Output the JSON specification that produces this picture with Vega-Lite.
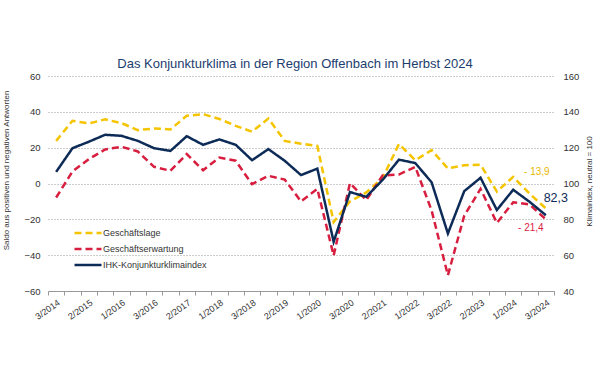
{
  "$schema": "https://vega.github.io/schema/vega-lite/v6.json",
  "width": 506,
  "height": 215,
  "autosize": {"type": "none"},
  "padding": {"left": 48, "top": 76, "right": 46, "bottom": 94},
  "background": "white",
  "config": {
    "font": "Liberation Sans",
    "view": {"stroke": null},
    "axis": {"labelFont": "Liberation Sans", "titleFont": "Liberation Sans", "labelColor": "#333333", "titleColor": "#333333", "labelFontSize": 9.5, "titleFontWeight": "normal"},
    "legend": {"labelFont": "Liberation Sans"},
    "text": {"font": "Liberation Sans"}
  },
  "title": {
    "text": "Das Konjunkturklima in der Region Offenbach im Herbst 2024",
    "fontSize": 13,
    "font": "Liberation Sans",
    "fontWeight": "normal",
    "color": "#1B3D6E",
    "anchor": "middle",
    "offset": 3,
    "dx": -6,
    "dy": 3
  },
  "data": {
    "values": [
      {"t": "3/2014", "s": "Geschäftslage", "v": 23.8}, {"t": "3/2014", "s": "Geschäftserwartung", "v": -7.8}, {"t": "3/2014", "s": "IHK-Konjunkturklimaindex", "v": 106.5},
      {"t": "1/2015", "s": "Geschäftslage", "v": 35.0}, {"t": "1/2015", "s": "Geschäftserwartung", "v": 6.7}, {"t": "1/2015", "s": "IHK-Konjunkturklimaindex", "v": 119.7},
      {"t": "2/2015", "s": "Geschäftslage", "v": 33.5}, {"t": "2/2015", "s": "Geschäftserwartung", "v": 13.6}, {"t": "2/2015", "s": "IHK-Konjunkturklimaindex", "v": 123.3},
      {"t": "3/2015", "s": "Geschäftslage", "v": 35.8}, {"t": "3/2015", "s": "Geschäftserwartung", "v": 19.0}, {"t": "3/2015", "s": "IHK-Konjunkturklimaindex", "v": 127.2},
      {"t": "1/2016", "s": "Geschäftslage", "v": 33.7}, {"t": "1/2016", "s": "Geschäftserwartung", "v": 20.5}, {"t": "1/2016", "s": "IHK-Konjunkturklimaindex", "v": 126.6},
      {"t": "2/2016", "s": "Geschäftslage", "v": 29.8}, {"t": "2/2016", "s": "Geschäftserwartung", "v": 17.9}, {"t": "2/2016", "s": "IHK-Konjunkturklimaindex", "v": 123.8},
      {"t": "3/2016", "s": "Geschäftslage", "v": 30.7}, {"t": "3/2016", "s": "Geschäftserwartung", "v": 9.3}, {"t": "3/2016", "s": "IHK-Konjunkturklimaindex", "v": 119.7},
      {"t": "1/2017", "s": "Geschäftslage", "v": 30.2}, {"t": "1/2017", "s": "Geschäftserwartung", "v": 7.1}, {"t": "1/2017", "s": "IHK-Konjunkturklimaindex", "v": 118.2},
      {"t": "2/2017", "s": "Geschäftslage", "v": 37.8}, {"t": "2/2017", "s": "Geschäftserwartung", "v": 16.4}, {"t": "2/2017", "s": "IHK-Konjunkturklimaindex", "v": 126.4},
      {"t": "3/2017", "s": "Geschäftslage", "v": 38.7}, {"t": "3/2017", "s": "Geschäftserwartung", "v": 7.4}, {"t": "3/2017", "s": "IHK-Konjunkturklimaindex", "v": 121.6},
      {"t": "1/2018", "s": "Geschäftslage", "v": 36.0}, {"t": "1/2018", "s": "Geschäftserwartung", "v": 14.5}, {"t": "1/2018", "s": "IHK-Konjunkturklimaindex", "v": 124.6},
      {"t": "2/2018", "s": "Geschäftslage", "v": 32.2}, {"t": "2/2018", "s": "Geschäftserwartung", "v": 12.7}, {"t": "2/2018", "s": "IHK-Konjunkturklimaindex", "v": 121.6},
      {"t": "3/2018", "s": "Geschäftslage", "v": 28.9}, {"t": "3/2018", "s": "Geschäftserwartung", "v": -0.4}, {"t": "3/2018", "s": "IHK-Konjunkturklimaindex", "v": 113.0},
      {"t": "1/2019", "s": "Geschäftslage", "v": 36.3}, {"t": "1/2019", "s": "Geschäftserwartung", "v": 4.3}, {"t": "1/2019", "s": "IHK-Konjunkturklimaindex", "v": 119.2},
      {"t": "2/2019", "s": "Geschäftslage", "v": 23.8}, {"t": "2/2019", "s": "Geschäftserwartung", "v": 2.2}, {"t": "2/2019", "s": "IHK-Konjunkturklimaindex", "v": 112.7},
      {"t": "3/2019", "s": "Geschäftslage", "v": 22.2}, {"t": "3/2019", "s": "Geschäftserwartung", "v": -10.0}, {"t": "3/2019", "s": "IHK-Konjunkturklimaindex", "v": 104.7},
      {"t": "1/2020", "s": "Geschäftslage", "v": 21.0}, {"t": "1/2020", "s": "Geschäftserwartung", "v": -3.0}, {"t": "1/2020", "s": "IHK-Konjunkturklimaindex", "v": 108.3},
      {"t": "2/2020", "s": "Geschäftslage", "v": -21.5}, {"t": "2/2020", "s": "Geschäftserwartung", "v": -40.2}, {"t": "2/2020", "s": "IHK-Konjunkturklimaindex", "v": 67.5},
      {"t": "3/2020", "s": "Geschäftslage", "v": -10.0}, {"t": "3/2020", "s": "Geschäftserwartung", "v": 0.2}, {"t": "3/2020", "s": "IHK-Konjunkturklimaindex", "v": 95.2},
      {"t": "1/2021", "s": "Geschäftslage", "v": -5.0}, {"t": "1/2021", "s": "Geschäftserwartung", "v": -9.3}, {"t": "1/2021", "s": "IHK-Konjunkturklimaindex", "v": 92.6},
      {"t": "2/2021", "s": "Geschäftslage", "v": 3.0}, {"t": "2/2021", "s": "Geschäftserwartung", "v": 4.5}, {"t": "2/2021", "s": "IHK-Konjunkturklimaindex", "v": 102.0},
      {"t": "3/2021", "s": "Geschäftslage", "v": 22.0}, {"t": "3/2021", "s": "Geschäftserwartung", "v": 5.0}, {"t": "3/2021", "s": "IHK-Konjunkturklimaindex", "v": 113.3},
      {"t": "1/2022", "s": "Geschäftslage", "v": 13.0}, {"t": "1/2022", "s": "Geschäftserwartung", "v": 9.3}, {"t": "1/2022", "s": "IHK-Konjunkturklimaindex", "v": 111.4},
      {"t": "2/2022", "s": "Geschäftslage", "v": 18.6}, {"t": "2/2022", "s": "Geschäftserwartung", "v": -15.0}, {"t": "2/2022", "s": "IHK-Konjunkturklimaindex", "v": 100.7},
      {"t": "3/2022", "s": "Geschäftslage", "v": 8.4}, {"t": "3/2022", "s": "Geschäftserwartung", "v": -51.2}, {"t": "3/2022", "s": "IHK-Konjunkturklimaindex", "v": 72.1},
      {"t": "1/2023", "s": "Geschäftslage", "v": 10.2}, {"t": "1/2023", "s": "Geschäftserwartung", "v": -18.0}, {"t": "1/2023", "s": "IHK-Konjunkturklimaindex", "v": 95.7},
      {"t": "2/2023", "s": "Geschäftslage", "v": 10.5}, {"t": "2/2023", "s": "Geschäftserwartung", "v": -3.0}, {"t": "2/2023", "s": "IHK-Konjunkturklimaindex", "v": 103.2},
      {"t": "3/2023", "s": "Geschäftslage", "v": -4.5}, {"t": "3/2023", "s": "Geschäftserwartung", "v": -22.0}, {"t": "3/2023", "s": "IHK-Konjunkturklimaindex", "v": 85.2},
      {"t": "1/2024", "s": "Geschäftslage", "v": 3.7}, {"t": "1/2024", "s": "Geschäftserwartung", "v": -10.5}, {"t": "1/2024", "s": "IHK-Konjunkturklimaindex", "v": 96.5},
      {"t": "2/2024", "s": "Geschäftslage", "v": -5.6}, {"t": "2/2024", "s": "Geschäftserwartung", "v": -11.7}, {"t": "2/2024", "s": "IHK-Konjunkturklimaindex", "v": 89.8},
      {"t": "3/2024", "s": "Geschäftslage", "v": -13.9}, {"t": "3/2024", "s": "Geschäftserwartung", "v": -20.0}, {"t": "3/2024", "s": "IHK-Konjunkturklimaindex", "v": 82.3}
    ]
  },
  "encoding": {
    "x": {
      "field": "t",
      "type": "nominal",
      "sort": null,
      "scale": {"type": "band", "paddingInner": 0, "paddingOuter": 0},
      "axis": {
        "title": null,
        "labelAngle": -35,
        "labelAlign": "right",
        "labelBaseline": "top",
        "labelFontSize": 9,
        "labelPadding": 3,
        "labelOverlap": false,
        "labelExpr": "indexof(['3/2014','2/2015','1/2016','3/2016','2/2017','1/2018','3/2018','2/2019','1/2020','3/2020','2/2021','1/2022','3/2022','2/2023','1/2024','3/2024'], datum.value) >= 0 ? datum.label : ''",
        "tickBand": "extent",
        "tickColor": "#999999",
        "tickSize": 4,
        "domainColor": "#999999",
        "grid": false
      }
    }
  },
  "layer": [
    {
      "transform": [{"filter": "datum.s !== 'IHK-Konjunkturklimaindex'"}],
      "mark": {"type": "line", "strokeJoin": "miter", "strokeCap": "butt"},
      "encoding": {
        "y": {
          "field": "v",
          "type": "quantitative",
          "scale": {"domain": [-60, 60], "nice": false, "zero": false},
          "axis": {
            "orient": "left",
            "title": "Saldo aus positiven und negativen Antworten",
            "titleFontSize": 8,
            "titleX": -42,
            "titleY": 94,
            "titleAngle": -90,
            "titleAlign": "center",
            "titleBaseline": "middle",
            "values": [-60, -40, -20, 0, 20, 40, 60],
            "grid": true,
            "gridDash": [1, 2],
            "gridColor": "#9a9a9a",
            "domain": false,
            "ticks": false,
            "labelPadding": 8
          }
        },
        "color": {
          "field": "s",
          "type": "nominal",
          "scale": {"domain": ["Geschäftslage", "Geschäftserwartung", "IHK-Konjunkturklimaindex"], "range": ["#F5C400", "#D81E3F", "#0D2B57"]},
          "legend": {"title": null, "orient": "none", "legendX": 32, "legendY": 149, "symbolType": "M-2,0H2", "symbolSize": 182, "labelFontSize": 9, "labelColor": "#333333", "labelOffset": 7, "rowPadding": 3, "padding": 0}
        },
        "strokeDash": {
          "field": "s",
          "type": "nominal",
          "scale": {"domain": ["Geschäftslage", "Geschäftserwartung", "IHK-Konjunkturklimaindex"], "range": [[7, 4], [7, 4], [1, 0]]},
          "legend": {"title": null, "orient": "none", "legendX": 32, "legendY": 149, "symbolType": "M-2,0H2", "symbolSize": 182, "labelFontSize": 9, "labelColor": "#333333", "labelOffset": 7, "rowPadding": 3, "padding": 0}
        },
        "strokeWidth": {
          "field": "s",
          "type": "nominal",
          "scale": {"domain": ["Geschäftslage", "Geschäftserwartung", "IHK-Konjunkturklimaindex"], "range": [2.5, 2.5, 3.5]},
          "legend": {"title": null, "orient": "none", "legendX": 32, "legendY": 149, "symbolType": "M-2,0H2", "symbolSize": 182, "labelFontSize": 9, "labelColor": "#333333", "labelOffset": 7, "rowPadding": 3, "padding": 0}
        }
      }
    },
    {
      "transform": [{"filter": "datum.s === 'IHK-Konjunkturklimaindex'"}],
      "mark": {"type": "line", "strokeJoin": "miter", "strokeCap": "butt"},
      "encoding": {
        "y": {
          "field": "v",
          "type": "quantitative",
          "scale": {"domain": [40, 160], "nice": false, "zero": false},
          "axis": {
            "orient": "right",
            "title": "Klimaindex, neutral = 100",
            "titleFontSize": 8,
            "titleX": 35,
            "titleY": 105,
            "titleAngle": -90,
            "titleAlign": "center",
            "titleBaseline": "middle",
            "values": [40, 60, 80, 100, 120, 140, 160],
            "grid": false,
            "domain": false,
            "ticks": false,
            "labelPadding": 9
          }
        },
        "color": {
          "field": "s",
          "type": "nominal",
          "scale": {"domain": ["Geschäftslage", "Geschäftserwartung", "IHK-Konjunkturklimaindex"], "range": ["#F5C400", "#D81E3F", "#0D2B57"]},
          "legend": {"title": null, "orient": "none", "legendX": 32, "legendY": 149, "symbolType": "M-2,0H2", "symbolSize": 182, "labelFontSize": 9, "labelColor": "#333333", "labelOffset": 7, "rowPadding": 3, "padding": 0}
        },
        "strokeDash": {
          "field": "s",
          "type": "nominal",
          "scale": {"domain": ["Geschäftslage", "Geschäftserwartung", "IHK-Konjunkturklimaindex"], "range": [[7, 4], [7, 4], [1, 0]]},
          "legend": {"title": null, "orient": "none", "legendX": 32, "legendY": 149, "symbolType": "M-2,0H2", "symbolSize": 182, "labelFontSize": 9, "labelColor": "#333333", "labelOffset": 7, "rowPadding": 3, "padding": 0}
        },
        "strokeWidth": {
          "field": "s",
          "type": "nominal",
          "scale": {"domain": ["Geschäftslage", "Geschäftserwartung", "IHK-Konjunkturklimaindex"], "range": [2.5, 2.5, 3.5]},
          "legend": {"title": null, "orient": "none", "legendX": 32, "legendY": 149, "symbolType": "M-2,0H2", "symbolSize": 182, "labelFontSize": 9, "labelColor": "#333333", "labelOffset": 7, "rowPadding": 3, "padding": 0}
        }
      }
    },
    {
      "data": {"values": [{"t": "3/2024", "v": -13.9, "label": "- 13,9"}]},
      "mark": {"type": "text", "color": "#E8B800", "fontSize": 10, "dx": -9, "dy": -36, "align": "center", "baseline": "middle"},
      "encoding": {
        "y": {"field": "v", "type": "quantitative", "scale": {"domain": [-60, 60], "nice": false, "zero": false}, "axis": null},
        "text": {"field": "label"}
      }
    },
    {
      "data": {"values": [{"t": "3/2024", "v": -20.0, "label": "- 21,4"}]},
      "mark": {"type": "text", "color": "#D81E3F", "fontSize": 10, "dx": -15, "dy": 9, "align": "center", "baseline": "middle"},
      "encoding": {
        "y": {"field": "v", "type": "quantitative", "scale": {"domain": [-60, 60], "nice": false, "zero": false}, "axis": null},
        "text": {"field": "label"}
      }
    },
    {
      "data": {"values": [{"t": "3/2024", "v": 82.3, "label": "82,3"}]},
      "mark": {"type": "text", "color": "#0D2B57", "fontSize": 12.5, "dx": 10, "dy": -17, "align": "center", "baseline": "middle"},
      "encoding": {
        "y": {"field": "v", "type": "quantitative", "scale": {"domain": [40, 160], "nice": false, "zero": false}, "axis": null},
        "text": {"field": "label"}
      }
    }
  ],
  "resolve": {"scale": {"y": "independent"}}
}
